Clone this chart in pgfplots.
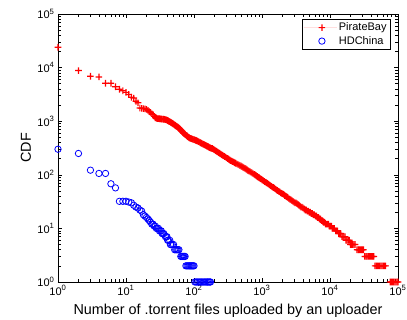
\documentclass[border=0pt]{standalone}
\usepackage{fontspec}
\setmainfont{Liberation Sans}
\usepackage{pgfplots}
\pgfplotsset{compat=1.18}
\pgfdeclareplotmark{rplus}{%
  \pgfsetfillcolor{red}%
  \pgfpathrectangle{\pgfqpoint{-\pgfplotmarksize}{-0.6pt}}{\pgfqpoint{2\pgfplotmarksize}{1.2pt}}%
  \pgfpathrectangle{\pgfqpoint{-0.6pt}{-\pgfplotmarksize}}{\pgfqpoint{1.2pt}{2\pgfplotmarksize}}%
  \pgfusepathqfill}
\pgfdeclareplotmark{bcirc}{%
  \pgfsetstrokecolor{blue}%
  \pgfpathcircle{\pgfpointorigin}{\pgfplotmarksize}%
  \pgfusepathqstroke}
\begin{document}
\begin{tikzpicture}
\begin{axis}[
  scale only axis,
  width=340pt, height=268pt,
  xmode=log, ymode=log,
  xmin=1, xmax=100000, ymin=1, ymax=100000,
  clip=false,
  xtick={1,10,100,1000,10000,100000},
  ytick={1,10,100,1000,10000,100000},
  xticklabels={$\mathrm{10}^{\mathrm{0}}$,$\mathrm{10}^{\mathrm{1}}$,$\mathrm{10}^{\mathrm{2}}$,$\mathrm{10}^{\mathrm{3}}$,$\mathrm{10}^{\mathrm{4}}$,$\mathrm{10}^{\mathrm{5}}$},
  yticklabels={$\mathrm{10}^{\mathrm{0}}$,$\mathrm{10}^{\mathrm{1}}$,$\mathrm{10}^{\mathrm{2}}$,$\mathrm{10}^{\mathrm{3}}$,$\mathrm{10}^{\mathrm{4}}$,$\mathrm{10}^{\mathrm{5}}$},
  tick label style={font=\fontsize{11}{13}\selectfont},
  axis line style={line width=0.8pt},
  every tick/.style={draw=black, line width=0.5pt},
  xlabel={Number of .torrent files uploaded by an uploader},
  ylabel={CDF},
  label style={font=\fontsize{14.4}{17}\selectfont},
  xlabel style={at={(axis description cs:0.5,-0.123)}, anchor=base},
  ylabel style={at={(axis description cs:-0.094,0.5)}, anchor=center},
  legend style={at={(1,1)}, anchor=north east, xshift=-7pt, yshift=-5pt,
    draw=black, line width=0.8pt, font=\fontsize{11}{13}\selectfont,
    legend cell align=left, inner xsep=2pt, inner ysep=1.5pt},
  legend image code/.code={\path[draw=none] (0pt,0pt) -- (33pt,0pt); \draw[#1] plot coordinates {(18pt,0pt)};},
]
\addplot[only marks, mark=rplus, mark size=3.3pt, color=red, fill=red] coordinates {
(1,24000)(2,8800)(3,6900)(4,6700)(5,5100)(6,5100)(7,4400)(8,3950)(9,3700)(10,3450)
(11,3150)(12,2800)(13,2700)(14,2350)(15,2200)(16,1760)(17,1740)(18,1720)(19,1700)(20,1660)
(21,1590)(22,1510)(23,1460)(24,1380)(25,1320)(26,1230)(27,1160)(28,1135)(29,1120)(30,1115)
(31,1110)(32,1105)(33,1100)(34,1095)(35,1090)(36,1085)(37,1078)(38,1070)(39,1060)(40,1050)
(41,1030)(42,1010)(43,995)(44,980)(45,962)(46,945)(47,928)(48,910)(49,895)(50,880)
(51,865)(52,850)(53,835)(54,820)(55,808)(56,795)(57,782)(58,770)(59,755)(60,740)
(61,728)(62,715)(63,700)(64,685)(65,670)(66,655)(67,640)(68,625)(69,612)(70,600)
(71,592)(73,575)(74,566)(76,550)(78,537)(79,530)(81,515)(83,500)(85,492)(87,484)
(89,478)(91,473)(93,467)(95,462)(97,457)(100,452)(102,447)(105,442)(107,437)(110,431)
(113,424)(116,417)(119,410)(122,403)(125,396)(128,389)(131,382)(135,376)(138,370)(142,363)
(146,357)(150,351)(154,345)(158,339)(162,333)(166,327)(170,321)(175,316)(180,312)(186,309)
(193,300)(200,292)(207,283)(214,275)(221,267)(229,260)(237,252)(245,245)(254,238)(263,232)
(272,225)(282,219)(292,213)(302,207)(313,201)(324,195)(335,189)(347,184)(359,180)(372,176)
(385,172)(398,168)(412,164)(427,160)(442,156)(457,153)(473,149)(490,146)(507,142)(525,138)
(543,135)(562,132)(582,128)(603,124)(624,120)(646,117)(669,114)(692,111)(716,108)(741,105)
(767,102)(794,99)(822,96)(851,93)(881,90)(912,88)(944,85)(977,83)(1011,80)(1047,78)
(1084,75)(1122,73)(1161,71)(1202,69)(1244,67)(1288,65)(1333,63)(1380,61)(1429,59)(1479,58)
(1531,56)(1585,54)(1641,52)(1698,51)(1758,49)(1820,48)(1884,46)(1950,45)(2018,44)(2089,43)
(2163,41)(2239,40)(2318,39)(2399,38)(2483,36)(2570,35)(2661,34)(2754,33)(2851,32)(2951,31)
(3055,30)(3162,30)(3273,29)(3388,28)(3508,27)(3631,26)(3758,25)(3890,25)(4027,24)(4169,23)
(4315,22)(4467,22)(4624,21)(4786,21)(4955,20)(5129,20)(5309,19)(5495,19)(5688,18)(5888,18)
(6095,17)(6310,17)(6531,16)(6761,16)(6998,15)(7244,15)(7499,14)(7762,14)(8035,13)(8318,13)
(8611,12)(8913,12)(9226,12)(9550,12)(9772,11)(10000,11)(10250,11)(10500,11)
(10800,10)(11200,10)(11600,10)(12100,9)(12500,9)(12900,9)(13400,8)(13900,8)(14400,8)
(15000,7)(15500,7)(16000,7)(16600,7)(17200,6)(17800,6)(18500,6)(19200,6)
(20000,5)(20800,5)(21600,5)(22500,5)(23400,5)
(25000,4)(26000,4)(27000,4)(28000,4)(29000,4)(30000,4)(31000,4)
(32500,3)(33800,3)(35100,3)(36500,3)(38000,3)(39500,3)(41000,3)(42600,3)(44000,3)
(46000,2)(47800,2)(49700,2)(51700,2)(53800,2)(56000,2)(58200,2)(60500,2)(63000,2)(65500,2)
(77000,1)(80000,1)(83000,1)(86500,1)(90000,1)(93500,1)(97000,1)(100000,1)
};
\addlegendentry{PirateBay}
\addplot[only marks, mark=bcirc, mark size=3.2pt, color=blue, line width=0.8pt] coordinates {
(1,300)(2,250)(3,122)(4,106)(5,106)(6,68)(7,57)(8,32)(9,32)(10,32)
(11,31)(12,30)(13,27)(14,25)(15,24)(16,22)(17,21)(18,18)(19,17)(20,16)
(21,15)(22,14)(23,13)(24,12)(25,12)(26,11)(27,11)(28,10)(29,10)(30,10)
(31,9)(32,9)(33,9)(34,8)(35,8)(36,8)(38,7)(39,7)(40,7)(41,6)
(42,6)(44,6)(45,5)(46,5)(48,5)(50,5)(52,4)(54,4)(56,4)(58,4)
(60,4)(64,3)(66,3)(68,3)(70,3)(72,3)(74,3)(76,2)(79,2)(82,2)
(85,2)(88,2)(91,2)(94,2)(97,2)(100,2)(103,1)(108,1)(113,1)(118,1)
(123,1)(128,1)(134,1)(140,1)(146,1)(152,1)(158,1)(164,1)(170,1)(175,1)
};
\addlegendentry{HDChina}
\coordinate (SW) at (rel axis cs:0,0);
\coordinate (NE) at (rel axis cs:1,1);
\end{axis}
\pgfresetboundingbox
\path[use as bounding box] ([shift={(-58pt,-38pt)}]SW) rectangle ([shift={(9pt,14pt)}]NE);
\end{tikzpicture}
\end{document}
